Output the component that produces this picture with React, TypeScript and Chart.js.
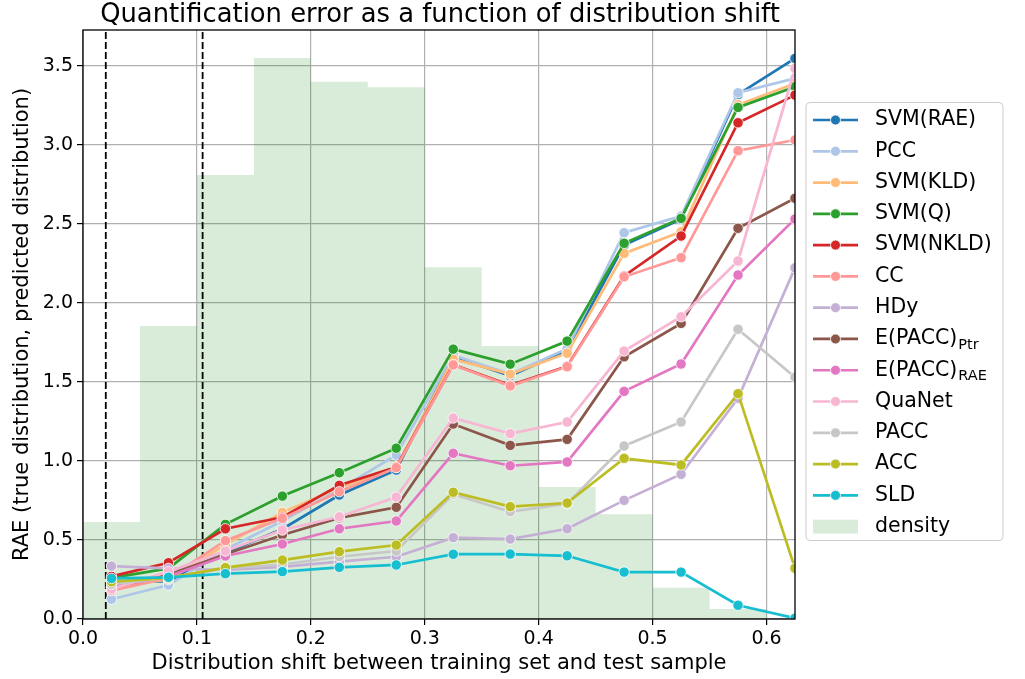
import React, { useEffect, useRef } from 'react';
import { Chart, registerables } from 'chart.js';

Chart.register(...registerables);

// ---- data ----
const shiftPoints = [0.025, 0.075, 0.125, 0.175, 0.225, 0.275, 0.325, 0.375, 0.425, 0.475, 0.525, 0.575, 0.625];
const binEdges = [0, 0.05, 0.1, 0.15, 0.2, 0.25, 0.3, 0.35, 0.4, 0.45, 0.5, 0.55, 0.6];
const densityValues = [0.614, 1.854, 2.81, 3.55, 3.40, 3.365, 2.226, 1.728, 0.835, 0.663, 0.198, 0.063];
const thresholds = [0.02, 0.105];

const svmRae = [0.23, 0.24, 0.42, 0.57, 0.785, 0.943, 1.66, 1.54, 1.70, 2.367, 2.53, 3.32, 3.548];
const pcc = [0.125, 0.215, 0.44, 0.62, 0.82, 1.038, 1.67, 1.55, 1.71, 2.445, 2.55, 3.331, 3.422];
const svmKld = [0.2, 0.25, 0.47, 0.675, 0.83, 0.96, 1.645, 1.55, 1.682, 2.314, 2.451, 3.255, 3.39];
const svmQ = [0.26, 0.32, 0.599, 0.778, 0.926, 1.081, 1.708, 1.613, 1.759, 2.378, 2.536, 3.238, 3.369];
const svmNkld = [0.27, 0.356, 0.571, 0.644, 0.846, 0.962, 1.61, 1.48, 1.60, 2.171, 2.424, 3.141, 3.316];
const cc = [0.18, 0.26, 0.496, 0.637, 0.806, 0.958, 1.608, 1.475, 1.597, 2.166, 2.287, 2.964, 3.032];
const hdy = [0.335, 0.32, 0.31, 0.33, 0.363, 0.394, 0.515, 0.506, 0.571, 0.751, 0.916, 1.397, 2.223];
const epaccPtr = [0.2, 0.28, 0.41, 0.532, 0.64, 0.707, 1.234, 1.099, 1.137, 1.66, 1.871, 2.473, 2.663];
const epaccRae = [0.204, 0.27, 0.399, 0.475, 0.571, 0.62, 1.049, 0.97, 0.994, 1.441, 1.614, 2.177, 2.532];
const quanet = [0.19, 0.3, 0.43, 0.563, 0.647, 0.772, 1.272, 1.173, 1.247, 1.696, 1.913, 2.266, 3.485];
const pacc = [0.22, 0.26, 0.32, 0.345, 0.394, 0.43, 0.79, 0.679, 0.73, 1.095, 1.247, 1.834, 1.53];
const acc = [0.236, 0.26, 0.325, 0.373, 0.426, 0.468, 0.802, 0.711, 0.734, 1.017, 0.975, 1.426, 0.321];
const sld = [0.257, 0.264, 0.287, 0.3, 0.327, 0.342, 0.41, 0.411, 0.4, 0.297, 0.297, 0.087, 0.005];

const seriesNames = ['SVM(RAE)', 'PCC', 'SVM(KLD)', 'SVM(Q)', 'SVM(NKLD)', 'CC', 'HDy', 'E(PACC)_Ptr', 'E(PACC)_RAE', 'QuaNet', 'PACC', 'ACC', 'SLD'];
const seriesValues = [svmRae, pcc, svmKld, svmQ, svmNkld, cc, hdy, epaccPtr, epaccRae, quanet, pacc, acc, sld];
const seriesColors = ['#1f77b4', '#aec7e8', '#ffbb78', '#2ca02c', '#d62728', '#ff9896', '#c5b0d5', '#8c564b', '#e377c2', '#f7b6d2', '#c7c7c7', '#bcbd22', '#17becf'];
const densityLabel = 'density';
const densityColor = 'rgba(0,128,0,0.15)';

const titleText = 'Quantification error as a function of distribution shift';
const xTitle = 'Distribution shift between training set and test sample';
const yTitle = 'RAE (true distribution, predicted distribution)';

const FONT = '"DejaVu Sans", sans-serif';
const X_MAX = 0.625;
const Y_MAX = 3.728;

const decorPlugin = {
  id: 'decor',
  afterDatasetsDraw(chart: any) {
    const { ctx, chartArea: a } = chart;
    ctx.save();
    ctx.strokeStyle = '#000';
    ctx.lineWidth = 1.3;
    ctx.strokeRect(a.left, a.top, a.right - a.left, a.bottom - a.top);
    ctx.restore();
  },
  afterDraw(chart: any) {
    const { ctx, chartArea: a } = chart;
    ctx.save();
    // title
    ctx.fillStyle = '#000';
    ctx.font = `25.8px ${FONT}`;
    ctx.textAlign = 'center';
    ctx.textBaseline = 'middle';
    ctx.fillText(titleText, (a.left + a.right) / 2 + 1, 15);

    // legend
    const bx = 806, by = 102.5, bw = 197, bh = 438;
    ctx.beginPath();
    ctx.roundRect(bx, by, bw, bh, 4);
    ctx.fillStyle = 'rgba(255,255,255,0.8)';
    ctx.fill();
    ctx.strokeStyle = '#cccccc';
    ctx.lineWidth = 1;
    ctx.stroke();

    const rowY0 = 120, rowStep = 31.28;
    const hx0 = 813, hx1 = 858, hxm = 835.5, tx = 875;
    seriesNames.forEach((name, i) => {
      const y = rowY0 + i * rowStep;
      const color = seriesColors[i];
      ctx.strokeStyle = color;
      ctx.lineWidth = 2.7;
      ctx.beginPath();
      ctx.moveTo(hx0, y);
      ctx.lineTo(hx1, y);
      ctx.stroke();
      ctx.beginPath();
      ctx.arc(hxm, y, 5, 0, Math.PI * 2);
      ctx.fillStyle = color;
      ctx.fill();
      ctx.strokeStyle = '#ffffff';
      ctx.lineWidth = 0.8;
      ctx.stroke();
      const [main, sub] = name.split('_');
      ctx.fillStyle = '#000';
      ctx.textAlign = 'left';
      ctx.textBaseline = 'middle';
      ctx.font = `20.5px ${FONT}`;
      ctx.fillText(main, tx, y);
      if (sub) {
        const w = ctx.measureText(main).width;
        ctx.font = `14.5px ${FONT}`;
        ctx.fillText(sub, tx + w + 1, y + 6);
      }
    });
    const dy = rowY0 + seriesNames.length * rowStep;
    ctx.fillStyle = densityColor;
    ctx.fillRect(hx0, dy - 7, hx1 - hx0, 14);
    ctx.fillStyle = '#000';
    ctx.font = `20.5px ${FONT}`;
    ctx.textAlign = 'left';
    ctx.textBaseline = 'middle';
    ctx.fillText(densityLabel, tx, dy);
    ctx.restore();
  },
};

export default function App() {
  const canvasRef = useRef<HTMLCanvasElement | null>(null);

  useEffect(() => {
    if (!canvasRef.current) return;
    const lineDatasets = seriesNames.map((name, i) => ({
      type: 'line' as const,
      label: name,
      data: shiftPoints.map((x, j) => ({ x, y: seriesValues[i][j] })),
      borderColor: seriesColors[i],
      backgroundColor: seriesColors[i],
      pointBackgroundColor: seriesColors[i],
      pointBorderColor: '#ffffff',
      pointBorderWidth: 0.8,
      pointRadius: 5.2,
      borderWidth: 2.7,
      fill: false,
      tension: 0,
      order: seriesNames.length - i,
    }));
    const thresholdDatasets = thresholds.map((t) => ({
      type: 'line' as const,
      label: 'threshold',
      data: [{ x: t, y: 0 }, { x: t, y: Y_MAX }],
      borderColor: '#000',
      borderWidth: 1.8,
      borderDash: [7, 3],
      pointRadius: 0,
      fill: false,
      order: 50,
    }));
    // histogram drawn as a stepped, filled area (one polygon: no seams between bins)
    const nBins = densityValues.length;
    const densityData = densityValues.map((v, j) => ({ x: binEdges[j], y: v }));
    densityData.push({ x: binEdges[nBins], y: densityValues[nBins - 1] });
    const densityDataset = {
      type: 'line' as const,
      label: densityLabel,
      data: densityData,
      stepped: 'before',
      backgroundColor: densityColor,
      borderColor: 'rgba(0,0,0,0)',
      borderWidth: 0,
      pointRadius: 0,
      fill: 'origin',
      order: 100,
    };

    const chart = new Chart(canvasRef.current, {
      type: 'line',
      data: { datasets: [densityDataset as any, ...thresholdDatasets, ...lineDatasets] },
      options: {
        animation: false,
        responsive: false,
        maintainAspectRatio: false,
        layout: { padding: { left: 0, top: 30, right: 230, bottom: 0 } },
        plugins: { legend: { display: false }, tooltip: { enabled: false }, title: { display: false } },
        events: [],
        scales: {
          x: {
            type: 'linear',
            min: 0,
            max: X_MAX,
            offset: false,
            border: { display: false },
            grid: { color: '#b0b0b0', lineWidth: 1.2, tickColor: '#000', tickLength: 6, tickWidth: 1.2, offset: false },
            ticks: {
              stepSize: 0.1,
              includeBounds: false,
              autoSkip: false,
              maxRotation: 0,
              color: '#000',
              padding: 3,
              font: { family: FONT, size: 19 },
              callback: (v: any) => Number(v).toFixed(1),
            },
            title: { display: true, text: xTitle, color: '#000', font: { family: FONT, size: 21 }, padding: { top: 0, bottom: 3 } },
            afterFit: (scale: any) => { scale.height = 60; },
          },
          y: {
            type: 'linear',
            min: 0,
            max: Y_MAX,
            border: { display: false },
            grid: { color: '#b0b0b0', lineWidth: 1.2, tickColor: '#000', tickLength: 6, tickWidth: 1.2 },
            ticks: {
              stepSize: 0.5,
              includeBounds: false,
              color: '#000',
              padding: 4,
              font: { family: FONT, size: 19 },
              callback: (v: any) => Number(v).toFixed(1),
            },
            title: { display: true, text: yTitle, color: '#000', font: { family: FONT, size: 21 }, padding: { top: 10, bottom: 0 } },
            afterFit: (scale: any) => { scale.width = 83; },
          },
        },
      },
      plugins: [decorPlugin],
    });
    return () => chart.destroy();
  }, []);

  return (
    <div style={{ position: 'absolute', left: 0, top: 0, width: 1025, height: 679, background: '#fff' }}>
      <canvas ref={canvasRef} width={1025} height={679} style={{ width: 1025, height: 679, display: 'block' }} />
    </div>
  );
}
